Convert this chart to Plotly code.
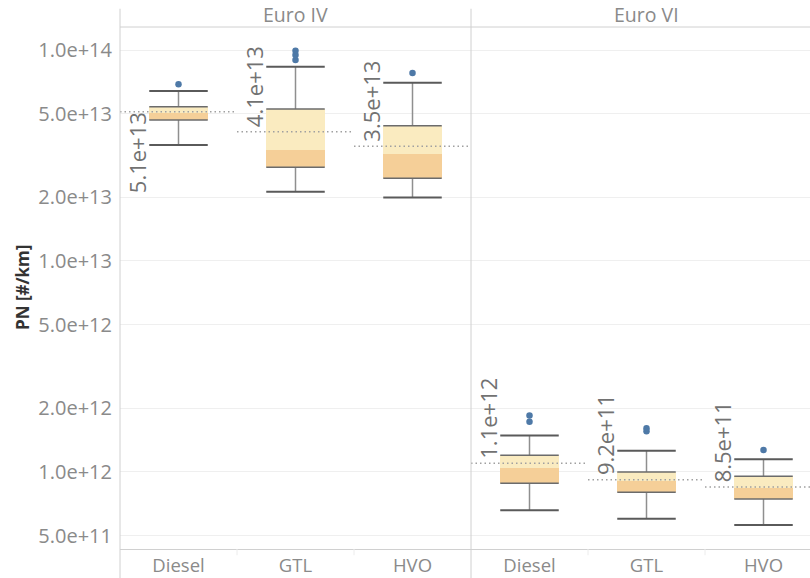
import numpy as np
import plotly.graph_objects as go

# ---- data -------------------------------------------------------------
categories = ["Diesel", "GTL", "HVO"]
panels = ["Euro IV", "Euro VI"]

# Euro IV box statistics (PN, #/km), ordered as categories
q1_iv = [4.66e13, 2.78e13, 2.47e13]
median_iv = [5.02e13, 3.36e13, 3.21e13]
q3_iv = [5.39e13, 5.25e13, 4.38e13]
whisker_low_iv = [3.55e13, 2.13e13, 2.00e13]
whisker_high_iv = [6.40e13, 8.33e13, 7.00e13]
mean_iv = [5.1e13, 4.1e13, 3.5e13]
outliers_iv = [[6.88e13], [8.97e13, 9.47e13, 9.92e13], [7.78e13]]

# Euro VI box statistics
q1_vi = [8.84e11, 8.01e11, 7.45e11]
median_vi = [1.05e12, 9.06e11, 8.44e11]
q3_vi = [1.20e12, 1.00e12, 9.54e11]
whisker_low_vi = [6.58e11, 6.01e11, 5.61e11]
whisker_high_vi = [1.49e12, 1.26e12, 1.15e12]
mean_vi = [1.1e12, 9.2e11, 8.5e11]
outliers_vi = [[1.73e12, 1.85e12], [1.56e12, 1.61e12], [1.27e12]]

y_ticks = [5e11, 1e12, 2e12, 5e12, 1e13, 2e13, 5e13, 1e14]

# ---- style ------------------------------------------------------------
FONT = "Open Sans"
LIGHT = "#FAEBC0"
DARK = "#F5CF98"
EDGE = "#6b6b6b"
STEM = "#8f8f8f"
DOT_BLUE = "#4E79A7"
GRID = "#efefef"
FRAME = "#d0d0d0"
TEXT_GREY = "#8a8a8a"
BOX_W = 0.5

panel_data = [
    ("x", q1_iv, median_iv, q3_iv, whisker_low_iv, whisker_high_iv, mean_iv, outliers_iv),
    ("x2", q1_vi, median_vi, q3_vi, whisker_low_vi, whisker_high_vi, mean_vi, outliers_vi),
]

fig = go.Figure()
annotations = []

for p, (xa, q1, med, q3, wlo, whi, mean, outl) in enumerate(panel_data):
    idx = list(range(len(categories)))
    # lower half of box (Q1 -> median) and upper half (median -> Q3)
    fig.add_trace(go.Bar(x=idx, base=q1, y=[m - a for a, m in zip(q1, med)],
                         width=BOX_W, marker=dict(color=DARK, line_width=0),
                         xaxis=xa, yaxis="y", hoverinfo="skip", showlegend=False))
    fig.add_trace(go.Bar(x=idx, base=med, y=[b - m for m, b in zip(med, q3)],
                         width=BOX_W, marker=dict(color=LIGHT, line_width=0),
                         xaxis=xa, yaxis="y", hoverinfo="skip", showlegend=False))

    # whisker stems
    sx, sy = [], []
    for i in idx:
        sx += [i, i, None, i, i, None]
        sy += [q3[i], whi[i], None, wlo[i], q1[i], None]
    fig.add_trace(go.Scatter(x=sx, y=sy, mode="lines", line=dict(color=STEM, width=1.5),
                             xaxis=xa, yaxis="y", hoverinfo="skip", showlegend=False))

    # box edges (Q1 / Q3)
    ex, ey = [], []
    for i in idx:
        for v in (q1[i], q3[i]):
            ex += [i - BOX_W / 2, i + BOX_W / 2, None]
            ey += [v, v, None]
    fig.add_trace(go.Scatter(x=ex, y=ey, mode="lines", line=dict(color=EDGE, width=1.5),
                             xaxis=xa, yaxis="y", hoverinfo="skip", showlegend=False))

    # whisker caps
    cx, cy = [], []
    for i in idx:
        for v in (wlo[i], whi[i]):
            cx += [i - BOX_W / 2, i + BOX_W / 2, None]
            cy += [v, v, None]
    fig.add_trace(go.Scatter(x=cx, y=cy, mode="lines", line=dict(color="#5a5a5a", width=2),
                             xaxis=xa, yaxis="y", hoverinfo="skip", showlegend=False))

    # mean reference lines across each category cell
    mx, my = [], []
    for i in idx:
        mx += [i - 0.5, i + 0.5, None]
        my += [mean[i], mean[i], None]
    fig.add_trace(go.Scatter(x=mx, y=my, mode="lines",
                             line=dict(color="#a0a0a0", width=1.5, dash="1.5px,3px"),
                             xaxis=xa, yaxis="y", hoverinfo="skip", showlegend=False))

    # outliers
    ox, oy = [], []
    for i in idx:
        ox += [i] * len(outl[i])
        oy += outl[i]
    fig.add_trace(go.Scatter(x=ox, y=oy, mode="markers",
                             marker=dict(color=DOT_BLUE, size=6.5),
                             xaxis=xa, yaxis="y", hoverinfo="skip", showlegend=False))

    # rotated mean labels
    for i in idx:
        below = (p == 0 and i == 0)
        annotations.append(dict(
            x=i - 0.355, y=np.log10(mean[i]), xref=xa, yref="y",
            text=f"{mean[i]:.1e}",
            textangle=-90, showarrow=False,
            xanchor="center", yanchor="top" if below else "bottom",
            yshift=2 if below else 3,
            font=dict(family=FONT, size=22, color="#727272"),
        ))

    # panel header
    annotations.append(dict(
        x=1, y=1, xref=xa, yref="paper", text=panels[p], showarrow=False,
        xanchor="center", yanchor="bottom", yshift=-3,
        font=dict(family=FONT, size=19.5, color=TEXT_GREY),
    ))

# y-axis title
annotations.append(dict(
    x=-0.142, y=0.5, xref="paper", yref="paper", text="<b>PN [#/km]</b>",
    textangle=-90, showarrow=False, xanchor="center", yanchor="middle",
    font=dict(family=FONT, size=17, color="#333333"),
))

split = 351 / 690
px_per_unit = 117.0
x2_max = -0.5 + (690 - 351) / px_per_unit

xaxis_common = dict(
    tickvals=list(range(len(categories))), ticktext=categories,
    showgrid=False, zeroline=False, showline=True, linecolor=FRAME, linewidth=1,
    ticks="", tickfont=dict(family=FONT, size=18.5, color=TEXT_GREY),
    ticklabelstandoff=0, automargin=False,
    fixedrange=True,
)

# frame lines: left edge, panel divider, header rule, category dividers
shapes = [
    dict(type="line", xref="paper", yref="paper", x0=0, x1=0, y0=-0.056, y1=1.035,
         line=dict(color=FRAME, width=1)),
    dict(type="line", xref="paper", yref="paper", x0=split, x1=split, y0=-0.056, y1=1.035,
         line=dict(color=FRAME, width=1)),
    dict(type="line", xref="paper", yref="paper", x0=0, x1=1, y0=1, y1=1,
         line=dict(color=FRAME, width=1)),
]
for xa in ("x", "x2"):
    for b in (0.5, 1.5):
        shapes.append(dict(type="line", xref=xa, yref="paper", x0=b, x1=b, y0=0, y1=-0.012,
                           line=dict(color="#ececec", width=1)))

fig.update_layout(
    width=810, height=578,
    margin=dict(l=120, r=0, t=27, b=29, autoexpand=False),
    paper_bgcolor="white", plot_bgcolor="white",
    barmode="overlay", bargap=0,
    showlegend=False,
    xaxis=dict(domain=[0, split], range=[-0.5, 2.5], anchor="y", **xaxis_common),
    xaxis2=dict(domain=[split, 1], range=[-0.5, x2_max], anchor="y", **xaxis_common),
    yaxis=dict(
        type="log", range=[11.635, 14.109],
        tickvals=y_ticks, tickformat=".1e",
        tickfont=dict(family=FONT, size=20, color=TEXT_GREY),
        showgrid=True, gridcolor=GRID, gridwidth=1,
        zeroline=False, showline=False, ticks="", ticklabelstandoff=7,
        automargin=False, fixedrange=True,
    ),
    annotations=annotations,
    shapes=shapes,
)

fig.write_html("out.html")
